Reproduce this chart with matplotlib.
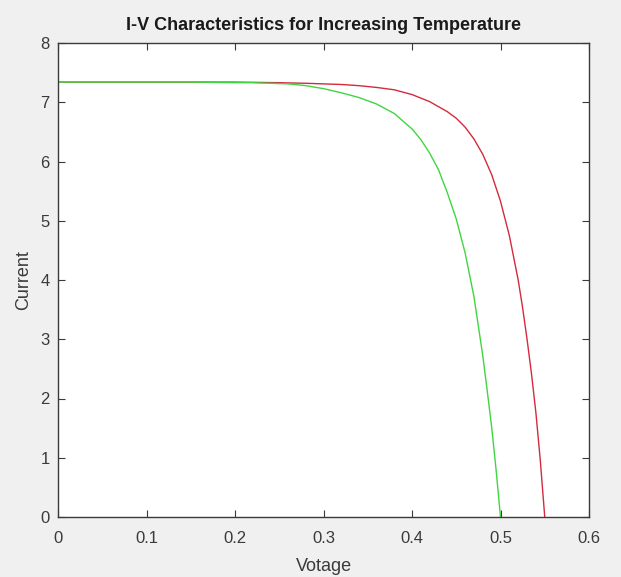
import matplotlib
matplotlib.use("Agg")
import matplotlib.pyplot as plt

# I-V sweep of the cell at the lower temperature (red) and the higher one (green)
v_cool = [0.0, 0.05, 0.10, 0.15, 0.20, 0.25, 0.28, 0.30, 0.32, 0.34, 0.36,
          0.38, 0.40, 0.42, 0.44, 0.45, 0.46, 0.47, 0.48, 0.49, 0.50, 0.51,
          0.52, 0.525, 0.53, 0.535, 0.54, 0.545, 0.55]
i_cool = [7.34, 7.34, 7.34, 7.34, 7.34, 7.33, 7.32, 7.31, 7.30, 7.28, 7.25,
          7.21, 7.13, 7.01, 6.84, 6.73, 6.58, 6.38, 6.12, 5.78, 5.33, 4.75,
          4.00, 3.53, 3.00, 2.42, 1.76, 0.95, 0.0]

v_hot = [0.0, 0.05, 0.10, 0.15, 0.20, 0.22, 0.24, 0.26, 0.28, 0.30, 0.32,
         0.34, 0.36, 0.38, 0.40, 0.41, 0.42, 0.43, 0.44, 0.45, 0.46, 0.47,
         0.48, 0.485, 0.49, 0.495, 0.50]
i_hot = [7.34, 7.34, 7.34, 7.34, 7.33, 7.33, 7.32, 7.31, 7.28, 7.23, 7.16,
         7.08, 6.97, 6.81, 6.55, 6.37, 6.14, 5.86, 5.47, 5.03, 4.46, 3.72,
         2.72, 2.13, 1.52, 0.80, 0.0]

x_ticks = [0, 0.1, 0.2, 0.3, 0.4, 0.5, 0.6]
y_ticks = [0, 1, 2, 3, 4, 5, 6, 7, 8]

plt.rcParams["font.family"] = ["Liberation Sans", "DejaVu Sans"]

fig = plt.figure(figsize=(6.21, 5.77), dpi=100, facecolor="#f0f0f0")
ax = fig.add_axes([58 / 621, 60 / 577, 531 / 621, 474 / 577])
ax.set_facecolor("white")

ax.plot(v_cool, i_cool, color="#d42a3c", lw=1.0)
ax.plot(v_hot, i_hot, color="#3fd63f", lw=1.0)

ax.set_xlim(0, 0.6)
ax.set_ylim(0, 8)
ax.set_xticks(x_ticks)
ax.set_xticklabels([f"{t:g}" for t in x_ticks])
ax.set_yticks(y_ticks)

for side in ax.spines.values():
    side.set_color("#3a3a3a")
    side.set_linewidth(1.0)
ax.tick_params(direction="in", length=5, width=0.8, color="#3a3a3a",
               top=True, right=True, labelsize=12, labelcolor="#3a3a3a")
ax.tick_params(axis="x", pad=10)
ax.tick_params(axis="y", pad=6)

ax.set_title("I-V Characteristics for Increasing Temperature",
             fontsize=13, fontweight="bold", color="#1a1a1a", pad=9)
ax.set_xlabel("Votage", fontsize=13, color="#3a3a3a", labelpad=9)
ax.set_ylabel("Current", fontsize=13, color="#3a3a3a", labelpad=6)

fig.savefig("out.png", dpi=100, facecolor=fig.get_facecolor())
